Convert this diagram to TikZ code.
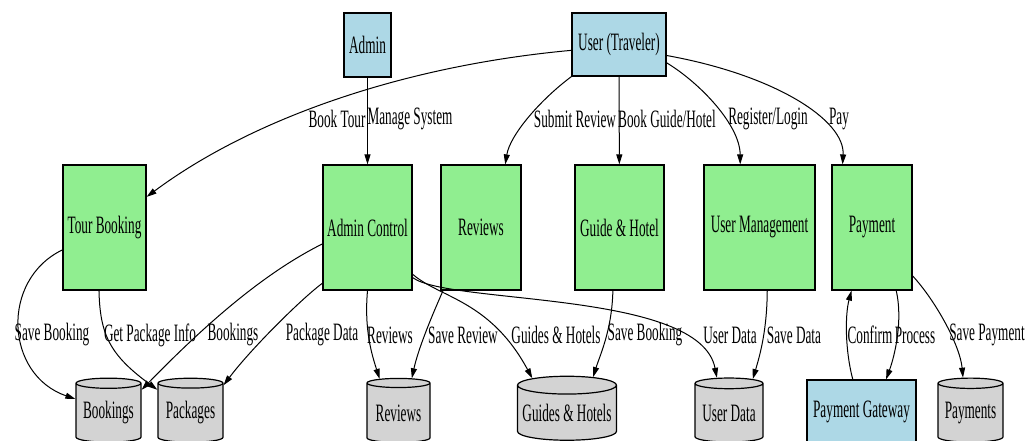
\documentclass[tikz,border=0pt]{standalone}
\usepackage{fontspec}
\setmainfont[FakeStretch=0.53]{Liberation Serif}
\usepackage{tikz}
\usetikzlibrary{shapes.geometric,arrows.meta}
\definecolor{extblue}{RGB}{173,216,230}
\definecolor{procgreen}{RGB}{144,238,144}
\definecolor{storegray}{RGB}{211,211,211}

\begin{document}
\begin{tikzpicture}[x=1pt, y=-1pt, font=\fontsize{25}{26}\selectfont,
    ext/.style={rectangle, draw, line width=1.2pt, fill=extblue, inner sep=0pt},
    proc/.style={rectangle, draw, line width=1.2pt, fill=procgreen, inner sep=0pt, minimum height=125pt},
    store/.style={cylinder, shape border rotate=90, draw, line width=1.2pt, fill=storegray, aspect=0.2, inner sep=0pt, minimum height=64pt},
    lbl/.style={inner sep=0pt},
    flow/.style={->, line width=1pt},
    >={Triangle[length=10pt,width=6pt]}]
        \clip (0,0) rectangle (1030,441);
        % Entities
        \node[ext, minimum width=47pt, minimum height=64pt] (admin) at (367.5,45) {Admin};
        \node[ext, minimum width=94pt, minimum height=63pt] (user) at (619,44.5) {User (Traveler)};
        % Processes
        \node[proc, minimum width=83pt] (tour) at (104.5,227.5) {Tour Booking};
        \node[proc, minimum width=89pt] (actl) at (367.5,227.5) {Admin Control};
        \node[proc, minimum width=80pt] (rvw) at (481,227.5) {Reviews};
        \node[proc, minimum width=89pt] (guide) at (619.5,227.5) {Guide \& Hotel};
        \node[proc, minimum width=111pt] (umgmt) at (759.5,227.5) {User Management};
        \node[proc, minimum width=80pt] (pay) at (872,227.5) {Payment};
        % Stores
        \node[store, minimum width=65pt] (bkgs) at (108.5,413) {Bookings};
        \node[store, minimum width=65pt] (pkgs) at (190.5,413) {Packages};
        \node[store, minimum width=63pt] (rvst) at (398.5,413) {Reviews};
        \node[store, minimum width=99pt] (ghst) at (567,413) {Guides \& Hotels};
        \node[store, minimum width=68pt] (udst) at (729,413) {User Data};
        \node[ext, minimum width=109pt, minimum height=64pt] (pgw) at (861.5,412) {Payment Gateway};
        \node[store, minimum width=65pt] (pmts) at (970.5,413) {Payments};
        % Edges from the entities
        \draw[flow] (user.187) .. controls (400,66) and (250,120) .. (tour.36);
        \draw[flow] (admin) -- (actl);
        \draw[flow] (user.south west) .. controls (540,100) and (510,135) .. (rvw.69);
        \draw[flow] (user) -- (guide);
        \draw[flow] (user.-21) .. controls (700,83) and (740,125) .. (umgmt.107);
        \draw[flow] (user.-13) .. controls (775,75) and (845,120) .. (pay.115);
        \node[lbl] (l1) at (337,119) {Book Tour};
        \node[lbl] (l2) at (410,119) {Manage System};
        \node[lbl] (l3) at (575,119) {Submit Review};
        \node[lbl] (l4) at (667,119) {Book Guide/Hotel};
        \node[lbl] (l5) at (768,119) {Register/Login};
        \node[lbl] (l6) at (839,119) {Pay};
        % Edges to the stores
        \draw[flow] (tour.208) .. controls (0,280) and (5,375) .. (bkgs.157);
        \draw[flow] (tour.265) .. controls (100,335) and (110,355) .. (pkgs.145);
        \draw[flow] (actl.200) .. controls (260,275) and (200,330) .. (bkgs.35);
        \draw[flow] (actl.231) .. controls (300,300) and (250,350) .. (pkgs.40);
        \draw[flow] (actl.south) .. controls (364,330) and (372,355) .. (rvst.119);
        \draw[flow] (rvw.239) .. controls (430,320) and (418,350) .. (rvst.69);
        \draw[flow] (actl.-46) .. controls (440,298) and (490,300) .. (ghst.135);
        \draw[flow] (actl.-48) .. controls (450,305) and (700,290) .. (udst.109);
        \draw[flow] (guide.264) .. controls (612,330) and (600,355) .. (ghst.54);
        \draw[flow] (umgmt.277) .. controls (767,330) and (760,355) .. (udst.55);
        \draw[flow] (pgw.105) .. controls (845,350) and (845,315) .. (pay.252);
        \draw[flow] (pay.291) .. controls (903,320) and (895,355) .. (pgw.53);
        \draw[flow] (pay.-50) .. controls (935,300) and (960,345) .. (pmts.102);
        \node[lbl] (m1) at (52,335) {Save Booking};
        \node[lbl] (m2) at (150,335) {Get Package Info};
        \node[lbl] (m3) at (233,335) {Bookings};
        \node[lbl] (m4) at (322,335) {Package Data};
        \node[lbl] (m5) at (390,335) {Reviews};
        \node[lbl] (m6) at (463,335) {Save Review};
        \node[lbl] (m7) at (556,335) {Guides \& Hotels};
        \node[lbl] (m8) at (645,335) {Save Booking};
        \node[lbl] (m9) at (730,335) {User Data};
        \node[lbl] (m10) at (794,335) {Save Data};
        \node[lbl] (m11) at (870,335) {Confirm};
        \node[lbl] (m12) at (915,335) {Process};
        \node[lbl] (m13) at (987,335) {Save Payment};
    \end{tikzpicture}
\end{document}
